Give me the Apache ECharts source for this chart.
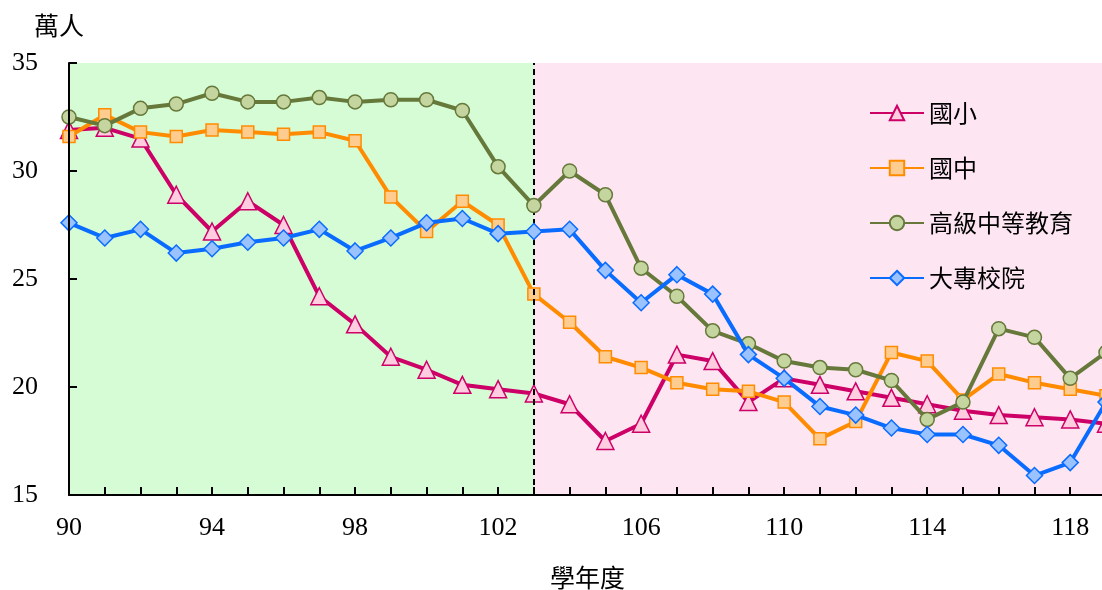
<!DOCTYPE html>
<html>
<head>
<meta charset="utf-8">
<script src="https://cdn.jsdelivr.net/npm/echarts@6/dist/echarts.min.js"></script>
<style>
html,body{margin:0;padding:0;background:#fff;}
#chart{width:1102px;height:590px;}
</style>
</head>
<body>
<div id="chart"></div>
<script>
// ---- data ----
const years = [90,91,92,93,94,95,96,97,98,99,100,101,102,103,104,105,106,107,108,109,110,111,112,113,114,115,116,117,118,119];
const seriesNames = ['國小','國中','高級中等教育','大專校院'];
const primary   = [31.9,32.0,31.5,28.9,27.2,28.6,27.5,24.2,22.9,21.4,20.8,20.1,19.9,19.7,19.2,17.5,18.3,21.5,21.2,19.3,20.4,20.1,19.8,19.5,19.2,18.9,18.7,18.6,18.5,18.3];
const junior    = [31.6,32.6,31.8,31.6,31.9,31.8,31.7,31.8,31.4,28.8,27.2,28.6,27.5,24.3,23.0,21.4,20.9,20.2,19.9,19.8,19.3,17.6,18.4,21.6,21.2,19.4,20.6,20.2,19.9,19.6];
const senior    = [32.5,32.1,32.9,33.1,33.6,33.2,33.2,33.4,33.2,33.3,33.3,32.8,30.2,28.4,30.0,28.9,25.5,24.2,22.6,22.0,21.2,20.9,20.8,20.3,18.5,19.3,22.7,22.3,20.4,21.6];
const college   = [27.6,26.9,27.3,26.2,26.4,26.7,26.9,27.3,26.3,26.9,27.6,27.8,27.1,27.2,27.3,25.4,23.9,25.2,24.3,21.5,20.4,19.1,18.7,18.1,17.8,17.8,17.3,15.9,16.5,19.3];
const xTickLabels = [90,94,98,102,106,110,114,118];
const yTicks = [15,20,25,30,35];
const splitYear = 103;

const serif = "'Liberation Serif','Noto Sans CJK TC',serif";
const cjk = "'Noto Sans CJK TC','Liberation Serif',sans-serif";

const styles = [
  {line:'#cc0066', fill:'#ffcce0', symbol:'triangle', size:17},
  {line:'#ff8c00', fill:'#ffcc8f', symbol:'rect', size:12},
  {line:'#66783a', fill:'#c5d59f', symbol:'circle', size:14},
  {line:'#0a6cff', fill:'#99c2ff', symbol:'diamond', size:16}
];
const values = [primary, junior, senior, college];

const series = values.map((vals, i) => ({
  name: seriesNames[i],
  type: 'line',
  data: years.map((y, k) => [y, vals[k]]),
  symbol: styles[i].symbol,
  symbolSize: styles[i].size,
  showAllSymbol: true,
  clip: false,
  lineStyle: {color: styles[i].line, width: 4},
  itemStyle: {color: styles[i].fill, borderColor: styles[i].line, borderWidth: 1.5},
  emphasis: {disabled: true},
  z: 3 + i
}));

series.unshift({
  name: 'bg',
  type: 'line',
  data: [],
  silent: true,
  z: 1,
  markArea: {
    silent: true,
    data: [
      [{xAxis: years[0], itemStyle: {color: '#d6fcd6'}}, {xAxis: splitYear}],
      [{xAxis: splitYear, itemStyle: {color: '#fde6f2'}}, {xAxis: years[years.length-1]}]
    ]
  },
  markLine: {
    silent: true,
    symbol: 'none',
    label: {show: false},
    lineStyle: {color: '#000', type: [6, 4], width: 2},
    data: [{xAxis: splitYear}]
  }
});

const chart = echarts.init(document.getElementById('chart'), null, {renderer: 'canvas'});
chart.setOption({
  animation: false,
  backgroundColor: '#ffffff',
  grid: {left: 69, top: 63, width: 1037, height: 432, containLabel: false, outerBoundsMode: 'none'},
  legend: {
    data: seriesNames,
    orient: 'vertical',
    left: 864,
    top: 96,
    itemWidth: 54,
    itemHeight: 18,
    itemGap: 31,
    textStyle: {fontFamily: cjk, fontSize: 24, color: '#000', lineHeight: 24, padding: [0,0,0,0]}
  },
  xAxis: {
    type: 'value',
    z: 10,
    min: years[0],
    max: years[years.length-1],
    interval: 1,
    name: '學年度',
    nameLocation: 'middle',
    nameGap: 70,
    nameTextStyle: {fontFamily: cjk, fontSize: 25, color: '#000'},
    axisLine: {lineStyle: {color: '#000', width: 2}},
    axisTick: {inside: true, length: 8, lineStyle: {color: '#000', width: 2}},
    axisLabel: {
      fontFamily: serif, fontSize: 26, color: '#000', margin: 20,
      formatter: v => xTickLabels.indexOf(v) >= 0 ? String(v) : ''
    },
    splitLine: {show: false}
  },
  yAxis: {
    type: 'value',
    z: 10,
    min: yTicks[0],
    max: yTicks[yTicks.length-1],
    interval: 5,
    name: '萬人',
    nameLocation: 'end',
    nameGap: 25,
    nameTextStyle: {fontFamily: cjk, fontSize: 25, color: '#000', padding: [0, 20, 0, 0]},
    axisLine: {show: true, lineStyle: {color: '#000', width: 2}},
    axisTick: {show: true, inside: true, length: 8, lineStyle: {color: '#000', width: 2}},
    axisLabel: {fontFamily: serif, fontSize: 26, color: '#000', margin: 31},
    splitLine: {show: false}
  },
  series: series
});
</script>
</body>
</html>
